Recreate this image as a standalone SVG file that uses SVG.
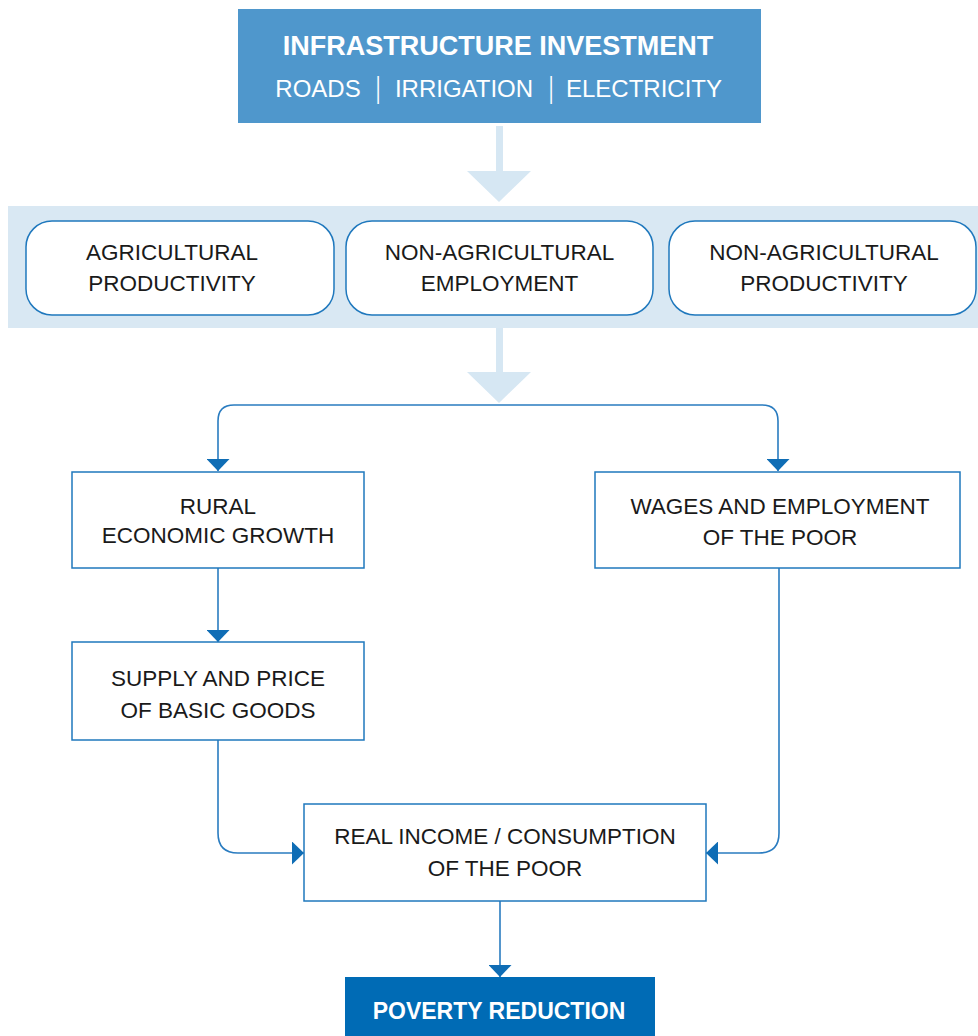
<svg xmlns="http://www.w3.org/2000/svg" width="978" height="1036" viewBox="0 0 978 1036">
  <style>
    .lbl { font-family: "Liberation Sans", Arial, sans-serif; font-size: 22.5px; fill: #1a1a1a; text-anchor: middle; }
    .head { font-family: "Liberation Sans", Arial, sans-serif; font-weight: bold; fill: #ffffff; text-anchor: middle; }
    .sub { font-family: "Liberation Sans", Arial, sans-serif; font-size: 24px; fill: #ffffff; text-anchor: middle; }
    .bar { font-family: "Liberation Sans", Arial, sans-serif; font-size: 30px; fill: #ffffff; text-anchor: middle; }
    .box { fill: #ffffff; stroke: #1f78bd; stroke-width: 1.5; }
    .pill { fill: #ffffff; stroke: #1f78bd; stroke-width: 1.5; }
    .wire { fill: none; stroke: #2a7cc0; stroke-width: 1.6; }
    .fat { fill: #d6e7f3; }
  </style>
  <defs>
    <marker id="tip" markerUnits="userSpaceOnUse" markerWidth="12" markerHeight="23" viewBox="0 0 12 23" refX="12" refY="11.5" orient="auto">
      <path d="M0,0 L12,11.5 L0,23 Z" fill="#0f6db5"/>
    </marker>
  </defs>

  <rect width="978" height="1036" fill="#ffffff"/>

  <!-- source node -->
  <g id="infrastructure">
    <rect x="238" y="9" width="523" height="114" fill="#4f97cc"/>
    <text class="head" x="498" y="55" font-size="27">INFRASTRUCTURE INVESTMENT</text>
    <text class="sub" x="318" y="97">ROADS</text>
    <!-- separators, squeezed sideways so they read as hairlines -->
    <text class="bar" transform="translate(378 98) scale(0.6 1)">|</text>
    <text class="sub" x="464" y="97">IRRIGATION</text>
    <text class="bar" transform="translate(551 98) scale(0.6 1)">|</text>
    <text class="sub" x="644" y="97">ELECTRICITY</text>
  </g>

  <!-- wide pale arrows -->
  <g id="bigArrows">
    <rect class="fat" x="496" y="126" width="7" height="46"/>
    <polygon class="fat" points="467,171 531,171 499,202"/>
    <rect class="fat" x="496" y="328" width="7" height="45"/>
    <polygon class="fat" points="467,372 531,372 499,403"/>
  </g>

  <!-- band of intermediate effects -->
  <g id="effects">
    <rect x="8" y="206" width="970" height="122" fill="#d9e8f3"/>
    <g id="agri">
      <rect class="pill" x="26" y="221" width="308" height="94" rx="26"/>
      <text class="lbl" x="172" y="260">AGRICULTURAL</text>
      <text class="lbl" x="172" y="291">PRODUCTIVITY</text>
    </g>
    <g id="nonAgriEmployment">
      <rect class="pill" x="346" y="221" width="307" height="94" rx="26"/>
      <text class="lbl" x="499.5" y="260">NON-AGRICULTURAL</text>
      <text class="lbl" x="499.5" y="291">EMPLOYMENT</text>
    </g>
    <g id="nonAgriProductivity">
      <rect class="pill" x="669" y="221" width="307" height="94" rx="26"/>
      <text class="lbl" x="824" y="260">NON-AGRICULTURAL</text>
      <text class="lbl" x="824" y="291">PRODUCTIVITY</text>
    </g>
  </g>

  <!-- connectors -->
  <g id="connectors">
    <path class="wire" d="M499,405 H234 Q218,405 218,421 V471" marker-end="url(#tip)"/>
    <path class="wire" d="M499,405 H762 Q778,405 778,421 V471" marker-end="url(#tip)"/>
    <path class="wire" d="M218,568 V642" marker-end="url(#tip)"/>
    <path class="wire" d="M218,740 V833 Q218,853 238,853 H304" marker-end="url(#tip)"/>
    <path class="wire" d="M779,568 V833 Q779,853 759,853 H706" marker-end="url(#tip)"/>
    <path class="wire" d="M500,901 V977" marker-end="url(#tip)"/>
  </g>

  <g id="ruralGrowth">
    <rect class="box" x="72" y="472" width="292" height="96"/>
    <text class="lbl" x="218" y="514">RURAL</text>
    <text class="lbl" x="218" y="543">ECONOMIC GROWTH</text>
  </g>

  <g id="wagesEmployment">
    <rect class="box" x="595" y="472" width="365" height="96"/>
    <text class="lbl" x="780" y="514">WAGES AND EMPLOYMENT</text>
    <text class="lbl" x="780" y="545">OF THE POOR</text>
  </g>

  <g id="supplyPrice">
    <rect class="box" x="72" y="642" width="292" height="98"/>
    <text class="lbl" x="218" y="686">SUPPLY AND PRICE</text>
    <text class="lbl" x="218" y="718">OF BASIC GOODS</text>
  </g>

  <g id="realIncome">
    <rect class="box" x="304" y="804" width="402" height="97"/>
    <text class="lbl" x="505" y="844">REAL INCOME / CONSUMPTION</text>
    <text class="lbl" x="505" y="876">OF THE POOR</text>
  </g>

  <g id="povertyReduction">
    <rect x="345" y="977" width="310" height="70" fill="#006bb5"/>
    <text class="head" x="499" y="1019" font-size="23">POVERTY REDUCTION</text>
  </g>
</svg>
